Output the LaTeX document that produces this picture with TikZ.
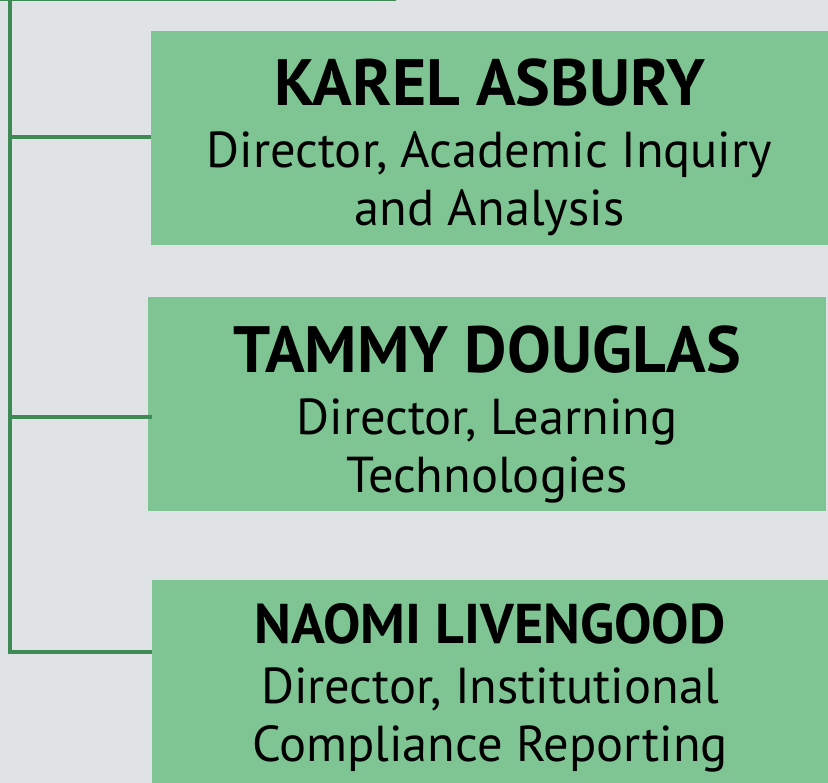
\documentclass[tikz,border=0pt]{standalone}
\usepackage{fontspec}
\setmainfont{PT Sans}
\usetikzlibrary{positioning}
\definecolor{pagebg}{HTML}{E0E3E6}
\definecolor{boxgreen}{HTML}{7FC594}
\definecolor{linkgreen}{HTML}{3D8A55}

\begin{document}
\begin{tikzpicture}[
  x=1pt,y=1pt,
  person/.style={fill=boxgreen,inner sep=0pt,minimum height=214pt},
  who/.style={align=center,inner sep=0pt,font=\fontsize{50.5}{58}\selectfont},
  link/.style={linkgreen,line width=4.5pt}
]
\clip (0,0) rectangle (828,783);
\fill[pagebg] (0,0) rectangle (828,783);
\node[person,minimum width=677pt] (asbury) at (489.5,645) {};
\node[person,minimum width=678pt] (douglas) at (487,379) {};
\node[person,minimum width=676pt,minimum height=220pt] (livengood) at (490,93) {};
\node[who] (asburytext) at ([yshift=-9pt]asbury.center)
  {{\fontsize{65.5}{62}\selectfont\bfseries KAREL ASBURY}\\[4pt]Director, Academic Inquiry\\and Analysis};
\node[who] (douglastext) at ([yshift=-10pt]douglas.center)
  {{\fontsize{65.5}{62}\selectfont\bfseries TAMMY DOUGLAS}\\[4pt]Director, Learning\\Technologies};
\node[who] (livengoodtext) at ([yshift=2pt]livengood.center)
  {{\fontsize{56}{60}\selectfont\bfseries NAOMI LIVENGOOD}\\[2pt]Director, Institutional\\Compliance Reporting};
\coordinate (rootleft) at (0,784);
\coordinate (rootright) at (396,784);
\coordinate (hubtop) at (10,784);
\coordinate (tapasbury) at (10,646);
\coordinate (tapdouglas) at (10,366);
\coordinate (hubend) at (10,131);
\draw[link] (rootleft) -- (rootright);
\draw[link] (hubtop) -- (hubend) -- (hubend -| livengood.west);
\draw[link] (tapasbury) -- (tapasbury -| asbury.west);
\draw[link] (tapdouglas) -- ([xshift=4pt]tapdouglas -| douglas.west);
\end{tikzpicture}
\end{document}
